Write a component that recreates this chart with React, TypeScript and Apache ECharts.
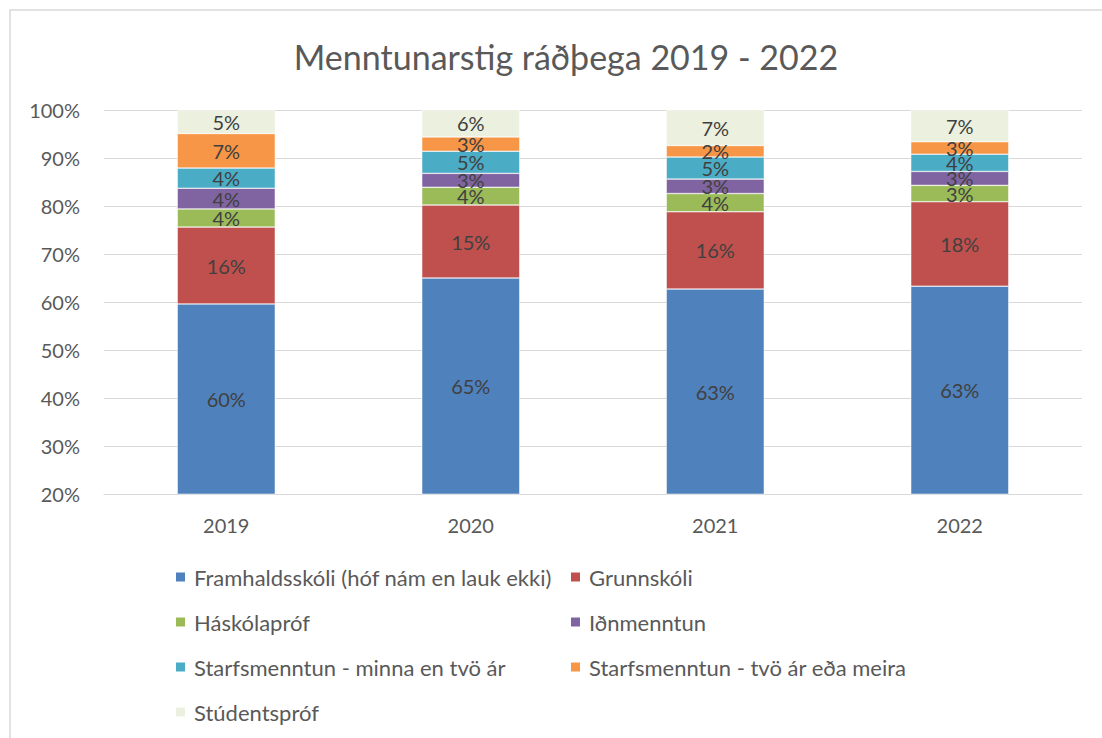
import React, { useEffect, useRef } from "react";
import * as echarts from "echarts";

const years = ["2019", "2020", "2021", "2022"];
const seriesNames = [
  "Framhaldsskóli (hóf nám en lauk ekki)",
  "Grunnskóli",
  "Háskólapróf",
  "Iðnmenntun",
  "Starfsmenntun - minna en tvö ár",
  "Starfsmenntun - tvö ár eða meira",
  "Stúdentspróf",
];
const framhaldsskoli = [59.6, 65.0, 62.7, 63.3];
const grunnskoli = [16.0, 15.2, 16.1, 17.6];
const haskolaprof = [3.8, 3.7, 3.8, 3.4];
const idnmenntun = [4.3, 2.9, 3.0, 2.9];
const starfsMinna = [4.2, 4.6, 4.6, 3.6];
const starfsTvo = [7.2, 3.0, 2.4, 2.6];
const studentsprof = [4.9, 5.6, 7.4, 6.6];
const yTicks = { min: 20, max: 100, interval: 10 };

const seriesValues = [
  framhaldsskoli,
  grunnskoli,
  haskolaprof,
  idnmenntun,
  starfsMinna,
  starfsTvo,
  studentsprof,
];
const colors = ["#4f81bd", "#c0504d", "#9bbb59", "#8064a2", "#4bacc6", "#f79646", "#ebf1de"];

const FONT = "Lato, 'Open Sans', sans-serif";

export default function App() {
  const ref = useRef<HTMLDivElement>(null);
  useEffect(() => {
    if (!ref.current) return;
    const chart = echarts.init(ref.current, undefined, { renderer: "svg" });
    const legendCommon = {
      orient: "vertical" as const,
      top: 560,
      itemWidth: 11,
      itemHeight: 11,
      itemGap: 21,
      icon: "rect",
      textStyle: { fontFamily: FONT, fontSize: 22, color: "#595959", lineHeight: 24, padding: [0, 0, 0, 3] },
      selectedMode: false,
    };
    chart.setOption({
      animation: false,
      textStyle: { fontFamily: FONT },
      title: {
        text: "Menntunarstig ráðþega 2019 - 2022",
        left: 561,
        textAlign: "center",
        top: 34,
        textStyle: { fontFamily: FONT, fontSize: 34, fontWeight: "normal", color: "#595959" },
      },
      graphic: [
        {
          type: "rect",
          shape: { x: 10, y: 10, width: 1100, height: 740 },
          style: { fill: "none", stroke: "#d9d9d9", lineWidth: 1.5 },
          silent: true,
        },
      ],
      legend: [
        { ...legendCommon, left: 169, data: [seriesNames[0], seriesNames[2], seriesNames[4], seriesNames[6]] },
        { ...legendCommon, left: 564, data: [seriesNames[1], seriesNames[3], seriesNames[5]] },
      ],
      grid: { left: 104, right: 20, top: 110, height: 384, containLabel: false },
      xAxis: {
        type: "category",
        data: years,
        axisLine: { lineStyle: { color: "#d9d9d9", width: 1 } },
        axisTick: { show: false },
        axisLabel: { fontFamily: FONT, fontSize: 20, color: "#595959", margin: 21 },
      },
      yAxis: {
        type: "value",
        min: yTicks.min,
        max: yTicks.max,
        interval: yTicks.interval,
        axisLine: { show: false },
        axisTick: { show: false },
        splitLine: { lineStyle: { color: "#d9d9d9", width: 1 } },
        axisLabel: { fontFamily: FONT, fontSize: 20, color: "#595959", margin: 24, formatter: "{value}%" },
      },
      series: seriesNames.map((name, i) => ({
        name,
        type: "bar",
        stack: "total",
        barWidth: 98,
        data: seriesValues[i],
        itemStyle: { color: colors[i], borderColor: "#ffffff", borderWidth: 0.5 },
        label: {
          show: true,
          position: "inside",
          fontFamily: FONT,
          fontSize: 20,
          color: "#404040",
          formatter: (p: any) => Math.round(p.value) + "%",
        },
      })),
    });
    return () => chart.dispose();
  }, []);
  return (
    <div
      ref={ref}
      style={{ position: "absolute", left: 0, top: 0, width: 1102, height: 738, background: "#fff" }}
    />
  );
}
